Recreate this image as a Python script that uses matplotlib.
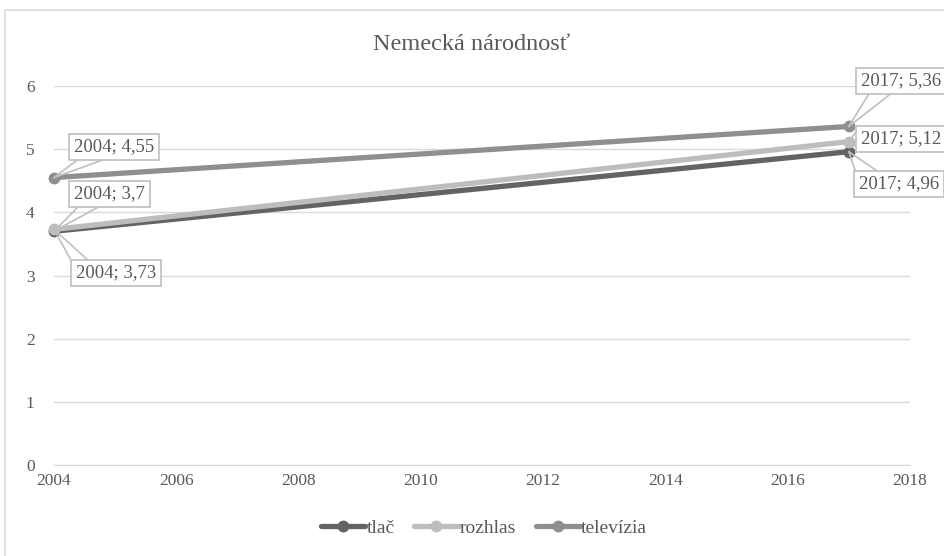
import matplotlib
matplotlib.use("Agg")
import matplotlib.pyplot as plt
from matplotlib.lines import Line2D
from matplotlib.patches import Rectangle

plt.rcParams['font.family'] = ['Liberation Serif', 'DejaVu Serif']

years = [2004, 2017]
series_names = ['tlač', 'rozhlas', 'televízia']
tlac = [3.7, 4.96]
rozhlas = [3.73, 5.12]
televizia = [4.55, 5.36]
series_values = [tlac, rozhlas, televizia]
series_colors = ['#636363', '#bdbdbd', '#8f8f8f']

x_ticks = list(range(2004, 2019, 2))
y_ticks = list(range(0, 7))

W, H = 944, 556
fig = plt.figure(figsize=(W / 100, H / 100), dpi=100)
fig.patch.set_facecolor('white')

# outer chart frame
fig.add_artist(Rectangle((5 / W, -0.2), 1.2, 1.2 - 10 / H,
                         transform=fig.transFigure, fill=False,
                         edgecolor='#d9d9d9', lw=1.2))

ax = fig.add_axes([54 / W, 1 - 465 / H, (910 - 54) / W, (465 - 86) / H])
ax.set_xlim(2004, 2018)
ax.set_ylim(0, 6)
ax.set_xticks(x_ticks)
ax.set_yticks(y_ticks)
ax.tick_params(length=0, labelsize=12.5, colors='#595959', pad=6)
ax.tick_params(axis='y', pad=14)
for s in ['top', 'right', 'left']:
    ax.spines[s].set_visible(False)
ax.spines['bottom'].set_color('#d9d9d9')
ax.yaxis.grid(True, color='#d9d9d9', lw=1)
ax.set_axisbelow(True)

handles = []
for name, vals, col in zip(series_names, series_values, series_colors):
    ln, = ax.plot(years, vals, color=col, lw=3.8, marker='o', markersize=7.5,
                  solid_capstyle='round', clip_on=False, zorder=3, label=name)
    handles.append(ln)

fig.text(0.5, 1 - 44 / H, 'Nemecká národnosť', ha='center', va='center',
         fontsize=17.5, color='#595959')

leg = fig.legend(handles=handles, loc='center', bbox_to_anchor=(484 / W, 1 - 528 / H),
                 ncol=3, frameon=False, fontsize=14, handlelength=2.3,
                 handletextpad=0.05, columnspacing=1.0, labelcolor='#595959')

fig.canvas.draw()

def fmt(y, v):
    return f"{y}; {v}".replace('.', ',')

# label placements: (series index, point index, box left, box vertical centre, wedge base points) in pixels
callouts = [
    (2, 0, 68, 147, [(80, 158), (108, 158)]),
    (0, 0, 68, 194, [(80, 205), (102, 205)]),
    (1, 0, 70, 273, [(72, 262), (90, 262)]),
    (2, 1, 855, 81, [(870, 92), (893, 92)]),
    (1, 1, 855, 139, [(855, 133), (855, 146)]),
    (0, 1, 853, 184, [(856, 173), (880, 173)]),
]

def px_to_fig(px, py):
    return px / W, 1 - py / H

for si, pi, bx, bcy, wedge in callouts:
    xv, yv = years[pi], series_values[si][pi]
    dx, dy = ax.transData.transform((xv, yv))
    pt = (dx / W, dy / H)
    for wx, wy in wedge:
        fx, fy = px_to_fig(wx, wy)
        fig.add_artist(Line2D([pt[0], fx], [pt[1], fy], transform=fig.transFigure,
                              color='#bfbfbf', lw=1.2, zorder=2))
    fx, fy = px_to_fig(bx + 6, bcy)
    fig.text(fx, fy, fmt(xv, yv), ha='left', va='center', fontsize=13.5,
             color='#595959', zorder=5,
             bbox=dict(boxstyle='square,pad=0.25', facecolor='white',
                       edgecolor='#bfbfbf', lw=1.2))

fig.savefig('out.png', dpi=100)
